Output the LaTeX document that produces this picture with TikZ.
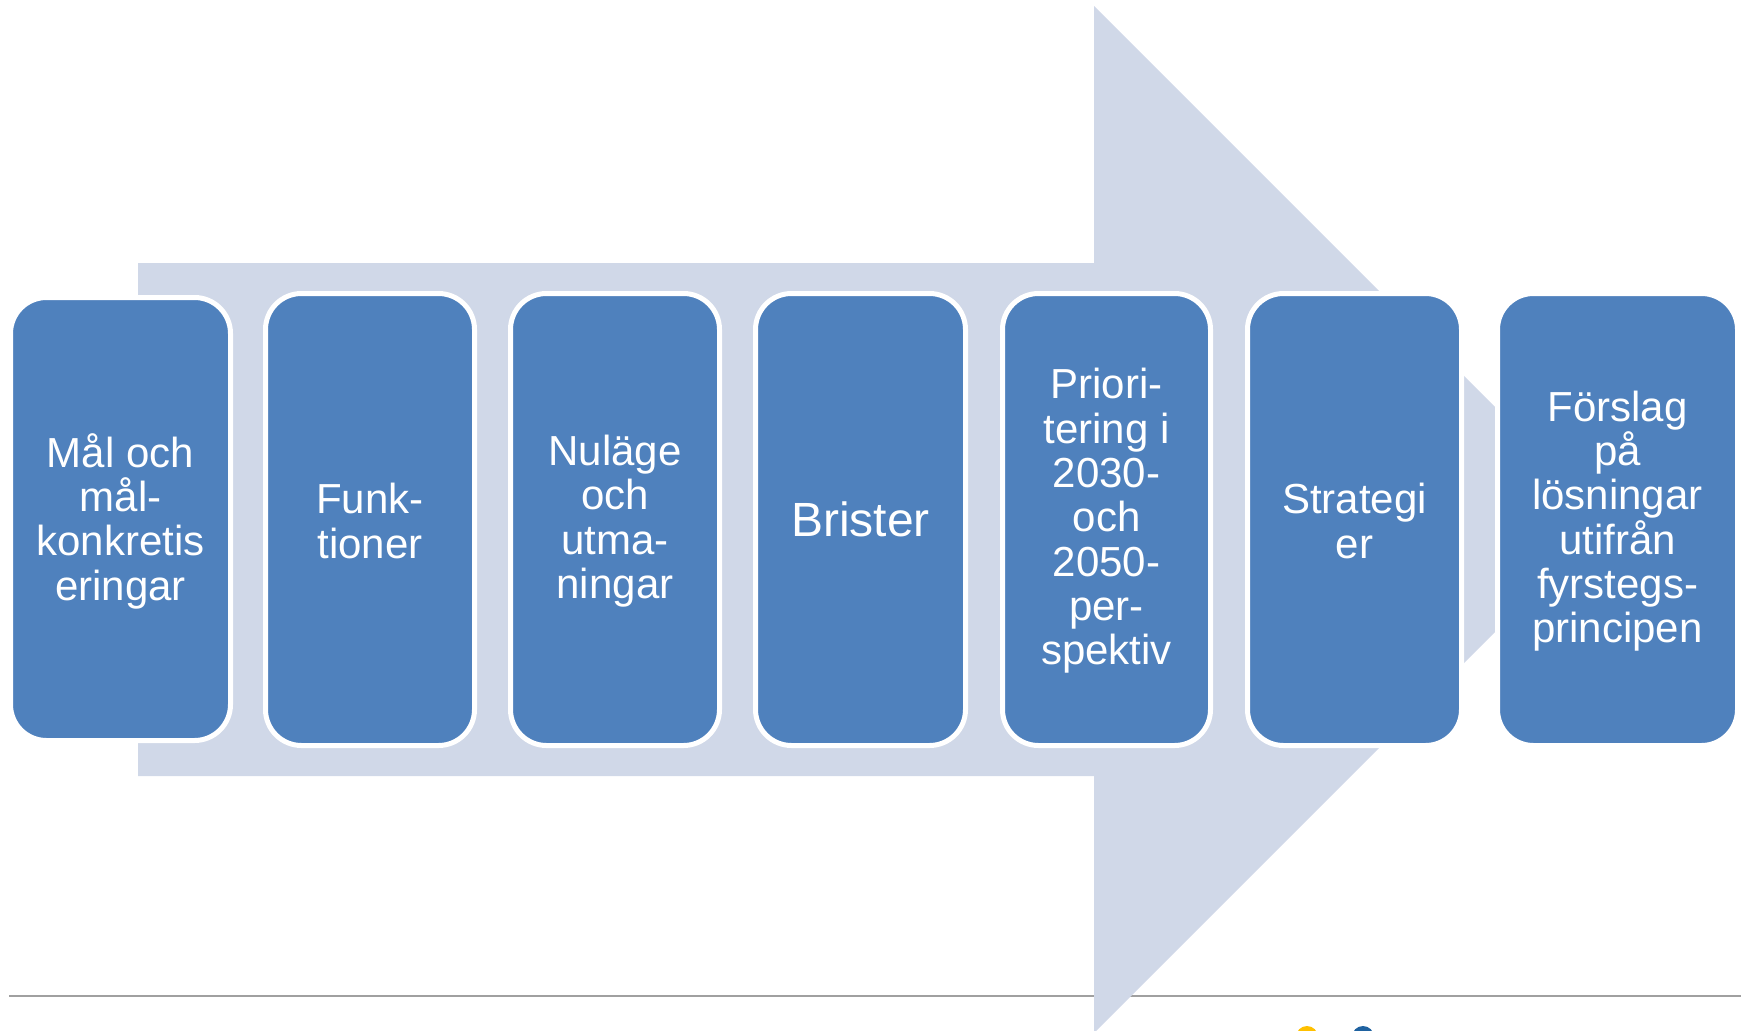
\documentclass[tikz,border=0pt]{standalone}
\usepackage{fontspec}
\setmainfont{Liberation Sans}
\definecolor{boxblue}{HTML}{4F81BD}
\definecolor{arrowgray}{HTML}{D0D8E8}
\definecolor{rulegray}{HTML}{A0A0A0}
\definecolor{dotyellow}{HTML}{FFC000}
\definecolor{dotblue}{HTML}{1F62A0}
\begin{document}
\begin{tikzpicture}[x=1pt,y=-1pt,
  stepbox/.style={draw=white, line width=5pt, fill=boxblue, rounded corners=36pt,
    inner sep=0pt},
  steptext/.style={inner sep=0pt, text=white, align=center,
    font=\fontsize{42}{44.3}\selectfont},
  bigtext/.style={font=\fontsize{48}{52}\selectfont}]
\useasboundingbox (0,0) rectangle (1741,1031);
\clip (0,0) rectangle (1741,1031);
% footer rule
\coordinate (rl) at (9,996);
\coordinate (rr) at (1741,996);
\draw[rulegray, line width=2pt] (rl) -- (rr);
% big process arrow
\fill[arrowgray] (138,263) -- (1094,263) -- (1094,6) -- (1607.5,519.5)
  -- (1094,1033) -- (1094,776) -- (138,776) -- cycle;
% steps
\node[stepbox, minimum width=220pt, minimum height=443pt] (b1) at (120.5,519) {};
\node[stepbox, minimum width=209pt, minimum height=452pt] (b2) at (370,519.5) {};
\node[stepbox, minimum width=209pt, minimum height=452pt] (b3) at (615,519.5) {};
\node[stepbox, minimum width=210pt, minimum height=452pt] (b4) at (860.5,519.5) {};
\node[stepbox, minimum width=208pt, minimum height=452pt] (b5) at (1106.5,519.5) {};
\node[stepbox, minimum width=214pt, minimum height=452pt] (b6) at (1354.5,519.5) {};
\node[stepbox, minimum width=240pt, minimum height=452pt] (b7) at (1617.5,519.5) {};
% texts
\node[steptext] (t1) at ([yshift=-2pt]b1.center) {Mål och\\mål-\\konkretis\\eringar};
\node[steptext] (t2) at ([yshift=-1.5pt]b2.center) {Funk-\\tioner};
\node[steptext] (t3) at ([yshift=-1.5pt]b3.center) {Nuläge\\och\\utma-\\ningar};
\node[steptext, bigtext] (t4) at (b4.center) {Brister};
\node[steptext] (t5) at ([yshift=-1.5pt]b5.center) {Priori-\\tering i\\2030-\\och\\2050-\\per-\\spektiv};
\node[steptext] (t6) at ([yshift=-1.5pt]b6.center) {Strategi\\er};
\node[steptext] (t7) at ([yshift=-1.5pt]b7.center) {Förslag\\på\\lösningar\\utifrån\\fyrstegs-\\principen};
% footer dots
\node[circle, fill=dotyellow, minimum size=22pt, inner sep=0pt] (dy) at (1307,1037) {};
\node[circle, fill=dotblue, minimum size=22pt, inner sep=0pt] (db) at (1363,1037) {};
\end{tikzpicture}
\end{document}
